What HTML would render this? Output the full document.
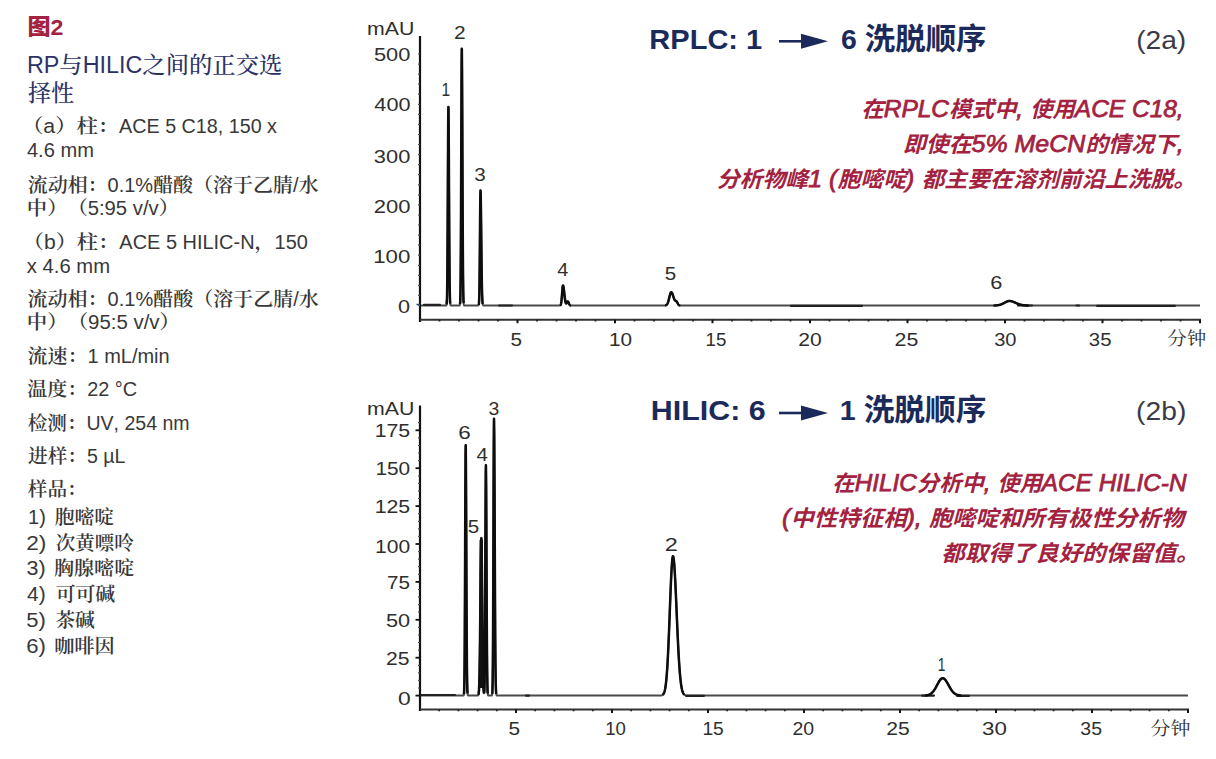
<!DOCTYPE html>
<html lang="zh"><head><meta charset="utf-8"><title>图2 RP与HILIC之间的正交选择性</title>
<style>
html,body{margin:0;padding:0;background:#fff;width:1216px;height:759px;overflow:hidden}
svg{display:block}
text{text-spacing-trim:space-all;font-kerning:none}
</style></head>
<body>
<svg width="1216" height="759" viewBox="0 0 1216 759">
<rect width="1216" height="759" fill="#fff"/>
<g fill="none" stroke-linejoin="round">
<line x1="420" y1="36.0" x2="420" y2="322.0" stroke="#111" stroke-width="2.2"/>
<line x1="420" y1="319.7" x2="1201.0" y2="319.7" stroke="#333" stroke-width="2"/>
<line x1="439.5" y1="319.7" x2="439.5" y2="321.5" stroke="#222" stroke-width="1.8"/>
<line x1="459.0" y1="319.7" x2="459.0" y2="321.5" stroke="#222" stroke-width="1.8"/>
<line x1="478.5" y1="319.7" x2="478.5" y2="321.5" stroke="#222" stroke-width="1.8"/>
<line x1="498.0" y1="319.7" x2="498.0" y2="321.5" stroke="#222" stroke-width="1.8"/>
<line x1="517.5" y1="319.7" x2="517.5" y2="323.2" stroke="#111" stroke-width="2"/>
<line x1="537.0" y1="319.7" x2="537.0" y2="321.5" stroke="#222" stroke-width="1.8"/>
<line x1="556.5" y1="319.7" x2="556.5" y2="321.5" stroke="#222" stroke-width="1.8"/>
<line x1="576.0" y1="319.7" x2="576.0" y2="321.5" stroke="#222" stroke-width="1.8"/>
<line x1="595.5" y1="319.7" x2="595.5" y2="321.5" stroke="#222" stroke-width="1.8"/>
<line x1="615.0" y1="319.7" x2="615.0" y2="323.2" stroke="#111" stroke-width="2"/>
<line x1="634.5" y1="319.7" x2="634.5" y2="321.5" stroke="#222" stroke-width="1.8"/>
<line x1="654.0" y1="319.7" x2="654.0" y2="321.5" stroke="#222" stroke-width="1.8"/>
<line x1="673.5" y1="319.7" x2="673.5" y2="321.5" stroke="#222" stroke-width="1.8"/>
<line x1="693.0" y1="319.7" x2="693.0" y2="321.5" stroke="#222" stroke-width="1.8"/>
<line x1="712.5" y1="319.7" x2="712.5" y2="323.2" stroke="#111" stroke-width="2"/>
<line x1="732.0" y1="319.7" x2="732.0" y2="321.5" stroke="#222" stroke-width="1.8"/>
<line x1="751.5" y1="319.7" x2="751.5" y2="321.5" stroke="#222" stroke-width="1.8"/>
<line x1="771.0" y1="319.7" x2="771.0" y2="321.5" stroke="#222" stroke-width="1.8"/>
<line x1="790.5" y1="319.7" x2="790.5" y2="321.5" stroke="#222" stroke-width="1.8"/>
<line x1="810.0" y1="319.7" x2="810.0" y2="323.2" stroke="#111" stroke-width="2"/>
<line x1="829.5" y1="319.7" x2="829.5" y2="321.5" stroke="#222" stroke-width="1.8"/>
<line x1="849.0" y1="319.7" x2="849.0" y2="321.5" stroke="#222" stroke-width="1.8"/>
<line x1="868.5" y1="319.7" x2="868.5" y2="321.5" stroke="#222" stroke-width="1.8"/>
<line x1="888.0" y1="319.7" x2="888.0" y2="321.5" stroke="#222" stroke-width="1.8"/>
<line x1="907.5" y1="319.7" x2="907.5" y2="323.2" stroke="#111" stroke-width="2"/>
<line x1="927.0" y1="319.7" x2="927.0" y2="321.5" stroke="#222" stroke-width="1.8"/>
<line x1="946.5" y1="319.7" x2="946.5" y2="321.5" stroke="#222" stroke-width="1.8"/>
<line x1="966.0" y1="319.7" x2="966.0" y2="321.5" stroke="#222" stroke-width="1.8"/>
<line x1="985.5" y1="319.7" x2="985.5" y2="321.5" stroke="#222" stroke-width="1.8"/>
<line x1="1005.0" y1="319.7" x2="1005.0" y2="323.2" stroke="#111" stroke-width="2"/>
<line x1="1024.5" y1="319.7" x2="1024.5" y2="321.5" stroke="#222" stroke-width="1.8"/>
<line x1="1044.0" y1="319.7" x2="1044.0" y2="321.5" stroke="#222" stroke-width="1.8"/>
<line x1="1063.5" y1="319.7" x2="1063.5" y2="321.5" stroke="#222" stroke-width="1.8"/>
<line x1="1083.0" y1="319.7" x2="1083.0" y2="321.5" stroke="#222" stroke-width="1.8"/>
<line x1="1102.5" y1="319.7" x2="1102.5" y2="323.2" stroke="#111" stroke-width="2"/>
<line x1="1122.0" y1="319.7" x2="1122.0" y2="321.5" stroke="#222" stroke-width="1.8"/>
<line x1="1141.5" y1="319.7" x2="1141.5" y2="321.5" stroke="#222" stroke-width="1.8"/>
<line x1="1161.0" y1="319.7" x2="1161.0" y2="321.5" stroke="#222" stroke-width="1.8"/>
<line x1="1180.5" y1="319.7" x2="1180.5" y2="321.5" stroke="#222" stroke-width="1.8"/>
<line x1="1200.0" y1="319.7" x2="1200.0" y2="323.2" stroke="#111" stroke-width="2"/>
<line x1="420" y1="405.6" x2="420" y2="711.0" stroke="#111" stroke-width="2.2"/>
<line x1="420" y1="709.5" x2="1189.0" y2="709.5" stroke="#333" stroke-width="2"/>
<line x1="439.2" y1="709.5" x2="439.2" y2="711.3" stroke="#222" stroke-width="1.8"/>
<line x1="458.4" y1="709.5" x2="458.4" y2="711.3" stroke="#222" stroke-width="1.8"/>
<line x1="477.6" y1="709.5" x2="477.6" y2="711.3" stroke="#222" stroke-width="1.8"/>
<line x1="496.8" y1="709.5" x2="496.8" y2="711.3" stroke="#222" stroke-width="1.8"/>
<line x1="516.0" y1="709.5" x2="516.0" y2="713.0" stroke="#111" stroke-width="2"/>
<line x1="535.2" y1="709.5" x2="535.2" y2="711.3" stroke="#222" stroke-width="1.8"/>
<line x1="554.4" y1="709.5" x2="554.4" y2="711.3" stroke="#222" stroke-width="1.8"/>
<line x1="573.6" y1="709.5" x2="573.6" y2="711.3" stroke="#222" stroke-width="1.8"/>
<line x1="592.8" y1="709.5" x2="592.8" y2="711.3" stroke="#222" stroke-width="1.8"/>
<line x1="612.0" y1="709.5" x2="612.0" y2="713.0" stroke="#111" stroke-width="2"/>
<line x1="631.2" y1="709.5" x2="631.2" y2="711.3" stroke="#222" stroke-width="1.8"/>
<line x1="650.4" y1="709.5" x2="650.4" y2="711.3" stroke="#222" stroke-width="1.8"/>
<line x1="669.6" y1="709.5" x2="669.6" y2="711.3" stroke="#222" stroke-width="1.8"/>
<line x1="688.8" y1="709.5" x2="688.8" y2="711.3" stroke="#222" stroke-width="1.8"/>
<line x1="708.0" y1="709.5" x2="708.0" y2="713.0" stroke="#111" stroke-width="2"/>
<line x1="727.2" y1="709.5" x2="727.2" y2="711.3" stroke="#222" stroke-width="1.8"/>
<line x1="746.4" y1="709.5" x2="746.4" y2="711.3" stroke="#222" stroke-width="1.8"/>
<line x1="765.6" y1="709.5" x2="765.6" y2="711.3" stroke="#222" stroke-width="1.8"/>
<line x1="784.8" y1="709.5" x2="784.8" y2="711.3" stroke="#222" stroke-width="1.8"/>
<line x1="804.0" y1="709.5" x2="804.0" y2="713.0" stroke="#111" stroke-width="2"/>
<line x1="823.2" y1="709.5" x2="823.2" y2="711.3" stroke="#222" stroke-width="1.8"/>
<line x1="842.4" y1="709.5" x2="842.4" y2="711.3" stroke="#222" stroke-width="1.8"/>
<line x1="861.6" y1="709.5" x2="861.6" y2="711.3" stroke="#222" stroke-width="1.8"/>
<line x1="880.8" y1="709.5" x2="880.8" y2="711.3" stroke="#222" stroke-width="1.8"/>
<line x1="900.0" y1="709.5" x2="900.0" y2="713.0" stroke="#111" stroke-width="2"/>
<line x1="919.2" y1="709.5" x2="919.2" y2="711.3" stroke="#222" stroke-width="1.8"/>
<line x1="938.4" y1="709.5" x2="938.4" y2="711.3" stroke="#222" stroke-width="1.8"/>
<line x1="957.6" y1="709.5" x2="957.6" y2="711.3" stroke="#222" stroke-width="1.8"/>
<line x1="976.8" y1="709.5" x2="976.8" y2="711.3" stroke="#222" stroke-width="1.8"/>
<line x1="996.0" y1="709.5" x2="996.0" y2="713.0" stroke="#111" stroke-width="2"/>
<line x1="1015.2" y1="709.5" x2="1015.2" y2="711.3" stroke="#222" stroke-width="1.8"/>
<line x1="1034.4" y1="709.5" x2="1034.4" y2="711.3" stroke="#222" stroke-width="1.8"/>
<line x1="1053.6" y1="709.5" x2="1053.6" y2="711.3" stroke="#222" stroke-width="1.8"/>
<line x1="1072.8" y1="709.5" x2="1072.8" y2="711.3" stroke="#222" stroke-width="1.8"/>
<line x1="1092.0" y1="709.5" x2="1092.0" y2="713.0" stroke="#111" stroke-width="2"/>
<line x1="1111.2" y1="709.5" x2="1111.2" y2="711.3" stroke="#222" stroke-width="1.8"/>
<line x1="1130.4" y1="709.5" x2="1130.4" y2="711.3" stroke="#222" stroke-width="1.8"/>
<line x1="1149.6" y1="709.5" x2="1149.6" y2="711.3" stroke="#222" stroke-width="1.8"/>
<line x1="1168.8" y1="709.5" x2="1168.8" y2="711.3" stroke="#222" stroke-width="1.8"/>
<line x1="1188.0" y1="709.5" x2="1188.0" y2="713.0" stroke="#111" stroke-width="2"/>
<line x1="418" y1="305.5" x2="420" y2="305.5" stroke="#555" stroke-width="1.2"/>
<line x1="418" y1="295.4" x2="420" y2="295.4" stroke="#555" stroke-width="1.2"/>
<line x1="418" y1="285.4" x2="420" y2="285.4" stroke="#555" stroke-width="1.2"/>
<line x1="418" y1="275.3" x2="420" y2="275.3" stroke="#555" stroke-width="1.2"/>
<line x1="418" y1="265.3" x2="420" y2="265.3" stroke="#555" stroke-width="1.2"/>
<line x1="418" y1="255.2" x2="420" y2="255.2" stroke="#555" stroke-width="1.2"/>
<line x1="418" y1="245.1" x2="420" y2="245.1" stroke="#555" stroke-width="1.2"/>
<line x1="418" y1="235.1" x2="420" y2="235.1" stroke="#555" stroke-width="1.2"/>
<line x1="418" y1="225.0" x2="420" y2="225.0" stroke="#555" stroke-width="1.2"/>
<line x1="418" y1="215.0" x2="420" y2="215.0" stroke="#555" stroke-width="1.2"/>
<line x1="418" y1="204.9" x2="420" y2="204.9" stroke="#555" stroke-width="1.2"/>
<line x1="418" y1="194.8" x2="420" y2="194.8" stroke="#555" stroke-width="1.2"/>
<line x1="418" y1="184.8" x2="420" y2="184.8" stroke="#555" stroke-width="1.2"/>
<line x1="418" y1="174.7" x2="420" y2="174.7" stroke="#555" stroke-width="1.2"/>
<line x1="418" y1="164.7" x2="420" y2="164.7" stroke="#555" stroke-width="1.2"/>
<line x1="418" y1="154.6" x2="420" y2="154.6" stroke="#555" stroke-width="1.2"/>
<line x1="418" y1="144.5" x2="420" y2="144.5" stroke="#555" stroke-width="1.2"/>
<line x1="418" y1="134.5" x2="420" y2="134.5" stroke="#555" stroke-width="1.2"/>
<line x1="418" y1="124.4" x2="420" y2="124.4" stroke="#555" stroke-width="1.2"/>
<line x1="418" y1="114.4" x2="420" y2="114.4" stroke="#555" stroke-width="1.2"/>
<line x1="418" y1="104.3" x2="420" y2="104.3" stroke="#555" stroke-width="1.2"/>
<line x1="418" y1="94.2" x2="420" y2="94.2" stroke="#555" stroke-width="1.2"/>
<line x1="418" y1="84.2" x2="420" y2="84.2" stroke="#555" stroke-width="1.2"/>
<line x1="418" y1="74.1" x2="420" y2="74.1" stroke="#555" stroke-width="1.2"/>
<line x1="418" y1="64.1" x2="420" y2="64.1" stroke="#555" stroke-width="1.2"/>
<line x1="418" y1="54.0" x2="420" y2="54.0" stroke="#555" stroke-width="1.2"/>
<line x1="415.5" y1="695.6" x2="420" y2="695.6" stroke="#111" stroke-width="1.8"/>
<line x1="418" y1="688.0" x2="420" y2="688.0" stroke="#555" stroke-width="1.2"/>
<line x1="418" y1="680.4" x2="420" y2="680.4" stroke="#555" stroke-width="1.2"/>
<line x1="418" y1="672.9" x2="420" y2="672.9" stroke="#555" stroke-width="1.2"/>
<line x1="418" y1="665.3" x2="420" y2="665.3" stroke="#555" stroke-width="1.2"/>
<line x1="415.5" y1="657.7" x2="420" y2="657.7" stroke="#111" stroke-width="1.8"/>
<line x1="418" y1="650.1" x2="420" y2="650.1" stroke="#555" stroke-width="1.2"/>
<line x1="418" y1="642.5" x2="420" y2="642.5" stroke="#555" stroke-width="1.2"/>
<line x1="418" y1="635.0" x2="420" y2="635.0" stroke="#555" stroke-width="1.2"/>
<line x1="418" y1="627.4" x2="420" y2="627.4" stroke="#555" stroke-width="1.2"/>
<line x1="415.5" y1="619.8" x2="420" y2="619.8" stroke="#111" stroke-width="1.8"/>
<line x1="418" y1="612.2" x2="420" y2="612.2" stroke="#555" stroke-width="1.2"/>
<line x1="418" y1="604.6" x2="420" y2="604.6" stroke="#555" stroke-width="1.2"/>
<line x1="418" y1="597.1" x2="420" y2="597.1" stroke="#555" stroke-width="1.2"/>
<line x1="418" y1="589.5" x2="420" y2="589.5" stroke="#555" stroke-width="1.2"/>
<line x1="415.5" y1="581.9" x2="420" y2="581.9" stroke="#111" stroke-width="1.8"/>
<line x1="418" y1="574.3" x2="420" y2="574.3" stroke="#555" stroke-width="1.2"/>
<line x1="418" y1="566.7" x2="420" y2="566.7" stroke="#555" stroke-width="1.2"/>
<line x1="418" y1="559.2" x2="420" y2="559.2" stroke="#555" stroke-width="1.2"/>
<line x1="418" y1="551.6" x2="420" y2="551.6" stroke="#555" stroke-width="1.2"/>
<line x1="415.5" y1="544.0" x2="420" y2="544.0" stroke="#111" stroke-width="1.8"/>
<line x1="418" y1="536.4" x2="420" y2="536.4" stroke="#555" stroke-width="1.2"/>
<line x1="418" y1="528.8" x2="420" y2="528.8" stroke="#555" stroke-width="1.2"/>
<line x1="418" y1="521.3" x2="420" y2="521.3" stroke="#555" stroke-width="1.2"/>
<line x1="418" y1="513.7" x2="420" y2="513.7" stroke="#555" stroke-width="1.2"/>
<line x1="415.5" y1="506.1" x2="420" y2="506.1" stroke="#111" stroke-width="1.8"/>
<line x1="418" y1="498.5" x2="420" y2="498.5" stroke="#555" stroke-width="1.2"/>
<line x1="418" y1="490.9" x2="420" y2="490.9" stroke="#555" stroke-width="1.2"/>
<line x1="418" y1="483.4" x2="420" y2="483.4" stroke="#555" stroke-width="1.2"/>
<line x1="418" y1="475.8" x2="420" y2="475.8" stroke="#555" stroke-width="1.2"/>
<line x1="415.5" y1="468.2" x2="420" y2="468.2" stroke="#111" stroke-width="1.8"/>
<line x1="418" y1="460.6" x2="420" y2="460.6" stroke="#555" stroke-width="1.2"/>
<line x1="418" y1="453.0" x2="420" y2="453.0" stroke="#555" stroke-width="1.2"/>
<line x1="418" y1="445.5" x2="420" y2="445.5" stroke="#555" stroke-width="1.2"/>
<line x1="418" y1="437.9" x2="420" y2="437.9" stroke="#555" stroke-width="1.2"/>
<line x1="415.5" y1="430.3" x2="420" y2="430.3" stroke="#111" stroke-width="1.8"/>
<line x1="418" y1="422.7" x2="420" y2="422.7" stroke="#555" stroke-width="1.2"/>
<line x1="416.5" y1="304.5" x2="420" y2="304.5" stroke="#2a4a7a" stroke-width="1.5"/>
<path d="M421.00 305.50 L445.75 305.50 L446.00 305.49 L446.25 305.40 L446.50 304.99 L446.75 303.29 L447.00 297.72 L447.25 283.19 L447.50 253.46 L447.75 206.76 L448.00 153.13 L448.25 114.25 L448.40 107.00 L448.50 109.74 L448.75 138.06 L449.00 185.10 L449.25 232.73 L449.50 268.53 L449.75 289.71 L450.00 299.83 L450.25 303.79 L450.50 305.07 L450.75 305.41 L451.00 305.48 L451.25 305.50 L459.25 305.49 L459.50 305.46 L459.75 305.25 L460.00 304.29 L460.25 300.66 L460.50 289.79 L460.75 264.00 L461.00 216.37 L461.25 149.80 L461.50 84.28 L461.75 49.86 L461.80 48.80 L462.00 62.67 L462.25 111.73 L462.50 175.52 L462.75 232.21 L463.00 270.76 L463.25 291.66 L463.50 300.86 L463.75 304.19 L464.00 305.19 L464.25 305.44 L464.50 305.49 L465.00 305.50 L478.00 305.50 L478.25 305.47 L478.50 305.35 L478.75 304.77 L479.00 302.71 L479.25 296.81 L479.50 283.48 L479.75 260.12 L480.00 229.43 L480.25 201.79 L480.50 190.50 L480.75 196.71 L481.00 213.42 L481.25 235.75 L481.50 258.22 L481.75 276.82 L482.00 289.94 L482.25 297.94 L482.50 302.21 L482.75 304.22 L483.00 305.06 L483.25 305.36 L483.50 305.46 L483.75 305.49 L559.50 305.49 L559.75 305.47 L560.00 305.42 L560.25 305.31 L560.50 305.08 L560.75 304.62 L561.00 303.81 L561.25 302.48 L561.50 300.51 L561.75 297.88 L562.00 294.71 L562.25 291.37 L562.50 288.36 L562.75 286.26 L563.00 285.50 L563.25 285.87 L563.50 286.93 L563.75 288.57 L564.00 290.62 L564.25 292.90 L564.50 295.20 L564.75 297.38 L565.00 299.30 L565.25 300.87 L565.50 302.07 L565.75 302.88 L566.00 303.31 L566.25 303.42 L566.50 303.25 L566.75 302.88 L567.00 302.42 L567.25 301.97 L567.50 301.63 L567.75 301.48 L567.80 301.48 L568.00 301.57 L568.25 301.88 L568.50 302.37 L568.75 302.95 L569.00 303.55 L569.25 304.10 L569.50 304.56 L569.75 304.90 L570.00 305.14 L570.25 305.30 L570.50 305.40 L570.75 305.45 L571.00 305.48 L571.25 305.49 L572.25 305.50 L664.25 305.48 L664.50 305.47 L664.75 305.46 L665.00 305.44 L665.25 305.40 L665.50 305.35 L665.75 305.28 L666.00 305.19 L666.25 305.06 L666.50 304.88 L666.75 304.65 L667.00 304.35 L667.25 303.98 L667.50 303.52 L667.75 302.96 L668.00 302.30 L668.25 301.55 L668.50 300.69 L668.75 299.75 L669.00 298.75 L669.25 297.70 L669.50 296.65 L669.75 295.63 L670.00 294.69 L670.25 293.85 L670.50 293.17 L670.75 292.67 L671.00 292.37 L671.20 292.30 L671.25 292.30 L671.50 292.40 L671.75 292.64 L672.00 293.01 L672.25 293.50 L672.50 294.09 L672.75 294.76 L673.00 295.49 L673.25 296.26 L673.50 297.03 L673.75 297.78 L674.00 298.47 L674.25 299.10 L674.50 299.62 L674.75 300.04 L675.00 300.36 L675.25 300.58 L675.50 300.73 L675.75 300.84 L676.00 300.96 L676.25 301.12 L676.50 301.35 L676.75 301.65 L677.00 302.04 L677.25 302.48 L677.50 302.96 L677.75 303.44 L678.00 303.89 L678.25 304.29 L678.50 304.62 L678.75 304.89 L679.00 305.09 L679.25 305.24 L679.50 305.33 L679.75 305.40 L680.00 305.44 L680.25 305.47 L680.50 305.48 L681.00 305.49 L992.75 305.48 L993.50 305.47 L994.25 305.46 L994.75 305.44 L995.00 305.43 L995.25 305.42 L995.50 305.41 L995.75 305.40 L996.00 305.38 L996.25 305.37 L996.50 305.35 L996.75 305.33 L997.00 305.30 L997.25 305.28 L997.50 305.25 L997.75 305.22 L998.00 305.18 L998.25 305.14 L998.50 305.10 L998.75 305.05 L999.00 305.00 L999.25 304.95 L999.50 304.89 L999.75 304.83 L1000.00 304.76 L1000.25 304.69 L1000.50 304.61 L1000.75 304.53 L1001.00 304.44 L1001.25 304.35 L1001.50 304.25 L1001.75 304.15 L1002.00 304.04 L1002.25 303.93 L1002.50 303.81 L1002.75 303.69 L1003.00 303.57 L1003.25 303.44 L1003.50 303.31 L1003.75 303.18 L1004.00 303.04 L1004.25 302.91 L1004.50 302.77 L1004.75 302.63 L1005.00 302.50 L1005.25 302.36 L1005.50 302.23 L1005.75 302.10 L1006.00 301.98 L1006.25 301.86 L1006.50 301.74 L1006.75 301.63 L1007.00 301.53 L1007.25 301.43 L1007.50 301.35 L1007.75 301.27 L1008.00 301.20 L1008.25 301.14 L1008.50 301.09 L1008.75 301.05 L1009.00 301.02 L1009.25 301.01 L1009.75 301.00 L1010.00 301.02 L1010.25 301.04 L1010.50 301.06 L1010.75 301.10 L1011.00 301.14 L1011.25 301.19 L1011.50 301.24 L1011.75 301.31 L1012.00 301.37 L1012.25 301.45 L1012.50 301.53 L1012.75 301.61 L1013.00 301.70 L1013.25 301.80 L1013.50 301.90 L1013.75 302.00 L1014.00 302.10 L1014.25 302.21 L1014.50 302.32 L1014.75 302.43 L1015.00 302.54 L1015.25 302.66 L1015.50 302.77 L1015.75 302.88 L1016.00 303.00 L1016.25 303.11 L1016.50 303.22 L1016.75 303.33 L1017.00 303.44 L1017.25 303.55 L1017.50 303.65 L1017.75 303.75 L1018.00 303.85 L1018.25 303.95 L1018.50 304.04 L1018.75 304.13 L1019.00 304.22 L1019.25 304.30 L1019.50 304.38 L1019.75 304.45 L1020.00 304.53 L1020.25 304.60 L1020.50 304.66 L1020.75 304.72 L1021.00 304.78 L1021.25 304.84 L1021.50 304.89 L1021.75 304.94 L1022.00 304.99 L1022.25 305.03 L1022.50 305.07 L1022.75 305.11 L1023.00 305.14 L1023.25 305.17 L1023.50 305.20 L1023.75 305.23 L1024.00 305.26 L1024.25 305.28 L1024.50 305.30 L1024.75 305.32 L1025.00 305.34 L1025.25 305.36 L1025.50 305.37 L1025.75 305.39 L1026.00 305.40 L1026.25 305.41 L1026.50 305.42 L1027.00 305.44 L1027.50 305.45 L1028.00 305.46 L1028.75 305.47 L1029.75 305.48 L1031.75 305.50 L1200.00 305.50" stroke="#4a4a4a" stroke-width="2.0"/>
<path d="M421.00 695.60 L463.00 695.60 L463.25 695.59 L463.50 695.52 L463.75 695.13 L464.00 693.49 L464.25 687.85 L464.50 672.43 L464.75 639.26 L465.00 584.20 L465.25 516.43 L465.50 461.22 L465.70 445.20 L465.75 446.07 L466.00 474.62 L466.25 531.10 L466.50 592.66 L466.75 641.45 L467.00 671.65 L467.25 686.70 L467.50 692.82 L467.75 694.87 L468.00 695.44 L468.25 695.57 L468.50 695.60 L477.25 695.59 L477.50 695.58 L477.75 695.53 L478.00 695.41 L478.25 695.10 L478.50 694.35 L478.75 692.76 L479.00 689.59 L479.25 683.84 L479.50 674.30 L479.75 659.88 L480.00 640.14 L480.25 615.90 L480.50 589.57 L480.75 565.01 L481.00 546.71 L481.25 538.44 L481.30 538.20 L481.50 542.04 L481.75 556.69 L482.00 579.28 L482.25 605.43 L482.50 630.89 L482.75 652.61 L483.00 669.16 L483.25 680.55 L483.50 687.65 L483.75 691.62 L484.00 693.26 L484.25 692.31 L484.50 686.29 L484.75 669.62 L485.00 635.19 L485.25 581.04 L485.50 518.81 L485.75 473.71 L485.90 465.30 L486.00 468.48 L486.25 501.33 L486.50 555.92 L486.75 611.17 L487.00 652.70 L487.25 677.28 L487.50 689.02 L487.75 693.61 L488.00 695.10 L488.25 695.49 L488.50 695.58 L488.75 695.60 L491.50 695.59 L491.75 695.54 L492.00 695.23 L492.25 693.85 L492.50 688.89 L492.75 674.68 L493.00 642.59 L493.25 586.36 L493.50 512.49 L493.75 445.97 L494.00 418.80 L494.25 435.90 L494.50 481.12 L494.75 539.68 L495.00 595.83 L495.25 639.40 L495.50 667.73 L495.75 683.44 L496.00 690.93 L496.25 694.02 L496.50 695.13 L496.75 695.48 L497.00 695.57 L497.25 695.59 L659.50 695.58 L660.00 695.56 L660.25 695.55 L660.50 695.53 L660.75 695.51 L661.00 695.48 L661.25 695.44 L661.50 695.38 L661.75 695.31 L662.00 695.22 L662.25 695.11 L662.50 694.96 L662.75 694.78 L663.00 694.54 L663.25 694.26 L663.50 693.90 L663.75 693.46 L664.00 692.93 L664.25 692.29 L664.50 691.51 L664.75 690.58 L665.00 689.48 L665.25 688.18 L665.50 686.66 L665.75 684.90 L666.00 682.87 L666.25 680.54 L666.50 677.90 L666.75 674.92 L667.00 671.58 L667.25 667.88 L667.50 663.80 L667.75 659.34 L668.00 654.50 L668.25 649.31 L668.50 643.78 L668.75 637.93 L669.00 631.82 L669.25 625.50 L669.50 619.01 L669.75 612.43 L670.00 605.84 L670.25 599.31 L670.50 592.94 L670.75 586.81 L671.00 581.01 L671.25 575.65 L671.50 570.79 L671.75 566.53 L672.00 562.94 L672.25 560.07 L672.50 557.99 L672.75 556.72 L673.00 556.30 L673.25 556.64 L673.50 557.64 L673.75 559.29 L674.00 561.57 L674.25 564.45 L674.50 567.88 L674.75 571.82 L675.00 576.22 L675.25 581.01 L675.50 586.15 L675.75 591.55 L676.00 597.16 L676.25 602.92 L676.50 608.76 L676.75 614.63 L677.00 620.46 L677.25 626.21 L677.50 631.82 L677.75 637.27 L678.00 642.50 L678.25 647.50 L678.50 652.24 L678.75 656.70 L679.00 660.87 L679.25 664.74 L679.50 668.31 L679.75 671.58 L680.00 674.56 L680.25 677.27 L680.50 679.70 L680.75 681.87 L681.00 683.81 L681.25 685.52 L681.50 687.02 L681.75 688.34 L682.00 689.48 L682.25 690.47 L682.50 691.32 L682.75 692.04 L683.00 692.66 L683.25 693.18 L683.50 693.62 L683.75 693.99 L684.00 694.29 L684.25 694.54 L684.50 694.75 L684.75 694.92 L685.00 695.06 L685.25 695.17 L685.50 695.26 L685.75 695.34 L686.00 695.39 L686.25 695.44 L686.50 695.48 L686.75 695.51 L687.00 695.53 L687.25 695.54 L687.50 695.56 L687.75 695.57 L688.25 695.58 L689.00 695.59 L922.00 695.58 L922.75 695.57 L923.25 695.56 L923.75 695.54 L924.00 695.53 L924.25 695.52 L924.50 695.51 L924.75 695.50 L925.00 695.48 L925.25 695.46 L925.50 695.44 L925.75 695.42 L926.00 695.40 L926.25 695.37 L926.50 695.33 L926.75 695.30 L927.00 695.26 L927.25 695.21 L927.50 695.16 L927.75 695.11 L928.00 695.05 L928.25 694.98 L928.50 694.90 L928.75 694.82 L929.00 694.73 L929.25 694.63 L929.50 694.52 L929.75 694.40 L930.00 694.27 L930.25 694.13 L930.50 693.98 L930.75 693.81 L931.00 693.64 L931.25 693.45 L931.50 693.25 L931.75 693.03 L932.00 692.80 L932.25 692.55 L932.50 692.29 L932.75 692.01 L933.00 691.72 L933.25 691.41 L933.50 691.09 L933.75 690.75 L934.00 690.39 L934.25 690.03 L934.50 689.64 L934.75 689.25 L935.00 688.84 L935.25 688.42 L935.50 687.99 L935.75 687.54 L936.00 687.09 L936.25 686.64 L936.50 686.17 L936.75 685.71 L937.00 685.23 L937.25 684.76 L937.50 684.29 L937.75 683.83 L938.00 683.37 L938.25 682.91 L938.50 682.47 L938.75 682.03 L939.00 681.61 L939.25 681.21 L939.50 680.82 L939.75 680.45 L940.00 680.11 L940.25 679.79 L940.50 679.49 L940.75 679.22 L941.00 678.98 L941.25 678.77 L941.50 678.59 L941.75 678.45 L942.00 678.34 L942.25 678.26 L942.50 678.21 L942.70 678.20 L942.75 678.20 L943.00 678.22 L943.25 678.28 L943.50 678.36 L943.75 678.48 L944.00 678.63 L944.25 678.81 L944.50 679.02 L944.75 679.25 L945.00 679.52 L945.25 679.80 L945.50 680.11 L945.75 680.45 L946.00 680.80 L946.25 681.17 L946.50 681.56 L946.75 681.96 L947.00 682.38 L947.25 682.81 L947.50 683.25 L947.75 683.69 L948.00 684.14 L948.25 684.59 L948.50 685.05 L948.75 685.50 L949.00 685.95 L949.25 686.40 L949.50 686.85 L949.75 687.29 L950.00 687.72 L950.25 688.14 L950.50 688.56 L950.75 688.96 L951.00 689.35 L951.25 689.73 L951.50 690.10 L951.75 690.45 L952.00 690.79 L952.25 691.11 L952.50 691.43 L952.75 691.72 L953.00 692.00 L953.25 692.27 L953.50 692.53 L953.75 692.77 L954.00 692.99 L954.25 693.20 L954.50 693.40 L954.75 693.59 L955.00 693.76 L955.25 693.93 L955.50 694.08 L955.75 694.22 L956.00 694.34 L956.25 694.46 L956.50 694.57 L956.75 694.67 L957.00 694.77 L957.25 694.85 L957.50 694.93 L957.75 695.00 L958.00 695.06 L958.25 695.12 L958.50 695.17 L958.75 695.22 L959.00 695.26 L959.25 695.30 L959.50 695.34 L959.75 695.37 L960.00 695.40 L960.25 695.42 L960.50 695.44 L960.75 695.46 L961.00 695.48 L961.25 695.50 L961.50 695.51 L961.75 695.52 L962.00 695.53 L962.50 695.55 L963.00 695.56 L963.50 695.57 L964.25 695.58 L965.75 695.59 L1188.00 695.60" stroke="#4a4a4a" stroke-width="2.0"/>
<path d="M424.0 304.8 L440.0 304.8 M499.0 305.5 L512.0 305.5 M791.0 305.9 L862.0 305.9 M1097.0 305.8 L1175.0 305.8 M1076.5 305.5 L1079.0 305.5 M1018.0 305.5 L1032.0 305.5 M421.0 695.0 L455.0 695.0 M526.0 695.6 L529.0 695.6 M686.0 695.8 L704.0 695.8 M922.0 695.6 L934.0 695.6 M957.0 695.8 L969.0 695.8" stroke="#222" stroke-width="2.2" stroke-linecap="round"/>
<path d="M446.64 304.31 L446.84 301.95 L447.04 296.17 L447.24 284.03 L447.44 262.23 L447.64 229.09 L447.84 187.29 L448.04 145.28 L448.24 115.22 L448.40 107.00 L448.44 107.44 L448.64 122.26 L448.84 153.80 L449.04 193.12 L449.24 231.00 L449.44 261.31 L449.64 282.04 L449.84 294.36 L450.04 300.76 L450.24 303.70 M460.04 303.97 L460.24 300.90 L460.44 293.43 L460.64 277.74 L460.84 249.54 L461.04 206.69 L461.24 152.63 L461.44 98.30 L461.64 59.44 L461.80 48.80 L461.84 49.37 L462.04 68.54 L462.24 109.32 L462.44 160.17 L462.64 209.16 L462.84 248.35 L463.04 275.16 L463.24 291.09 L463.44 299.38 L463.64 303.17 M478.74 304.81 L478.94 303.44 L479.14 300.09 L479.34 293.06 L479.54 280.43 L479.74 261.23 L479.94 237.02 L480.14 212.67 L480.34 195.26 L480.50 190.50 L480.54 190.66 L480.74 196.24 L480.94 208.68 L481.14 225.59 L481.34 244.08 L481.54 261.53 L481.74 276.18 L481.94 287.29 L482.14 294.97 L482.34 299.83 L482.54 302.65 L482.74 304.17 M560.12 305.38 L560.32 305.26 L560.52 305.05 L560.72 304.69 L560.92 304.12 L561.12 303.24 L561.32 302.00 L561.52 300.33 L561.72 298.23 L561.92 295.76 L562.12 293.10 L562.32 290.47 L562.52 288.15 L562.72 286.44 L562.92 285.58 L563.00 285.50 L563.12 285.58 L563.32 286.10 L563.52 287.04 L563.72 288.34 L563.92 289.93 L564.12 291.70 L564.32 293.55 L564.52 295.39 L564.72 297.13 L564.92 298.72 L565.12 300.10 L565.32 301.25 L565.52 302.15 L565.72 302.80 L565.92 303.21 L566.12 303.40 L566.32 303.40 L566.52 303.23 L566.72 302.93 L566.92 302.57 L567.12 302.19 M564.60 296.10 L564.80 297.79 L565.00 299.30 L565.20 300.59 L565.40 301.64 L565.60 302.44 L565.80 302.99 L566.00 303.31 L566.20 303.42 L566.40 303.34 L566.60 303.12 L566.80 302.79 L567.00 302.42 L567.20 302.05 L567.40 301.74 L567.60 301.54 L567.80 301.48 L568.00 301.57 L568.20 301.80 L568.40 302.16 L568.60 302.59 L568.80 303.07 L569.00 303.55 L569.20 304.00 L569.40 304.39 L569.60 304.71 L569.80 304.96 L570.00 305.14 L570.20 305.28 L570.40 305.36 L570.60 305.42 L570.80 305.46 L571.00 305.48 M665.12 305.42 L665.32 305.39 L665.52 305.35 L665.72 305.29 L665.92 305.22 L666.12 305.13 L666.32 305.01 L666.52 304.86 L666.72 304.68 L666.92 304.46 L667.12 304.18 L667.32 303.86 L667.52 303.48 L667.72 303.03 L667.92 302.53 L668.12 301.95 L668.32 301.32 L668.52 300.62 L668.72 299.87 L668.92 299.07 L669.12 298.25 L669.32 297.41 L669.52 296.57 L669.72 295.75 L669.92 294.98 L670.12 294.27 L670.32 293.64 L670.52 293.12 L670.72 292.71 L670.92 292.44 L671.12 292.31 L671.20 292.30 L671.32 292.32 L671.52 292.42 L671.72 292.61 L671.92 292.88 L672.12 293.23 L672.32 293.65 L672.52 294.14 L672.72 294.68 L672.92 295.25 L673.12 295.86 L673.32 296.47 L673.52 297.09 L673.72 297.69 L673.92 298.26 L674.12 298.78 L674.32 299.25 L674.52 299.66 L674.72 300.00 L674.92 300.27 L675.12 300.47 L675.32 300.63 L675.52 300.74 L675.72 300.83 L675.92 300.92 L676.12 301.03 L676.32 301.18 L676.50 301.35 L676.52 301.37 L676.72 301.61 L676.92 301.91 L677.12 302.24 L677.32 302.61 L677.52 303.00 L677.72 303.38 L677.92 303.75 L678.12 304.09 L678.32 304.39 L678.52 304.65 L678.72 304.86 M672.66 294.51 L672.86 295.08 L673.06 295.67 L673.26 296.29 L673.46 296.91 L673.66 297.51 L673.86 298.09 L674.06 298.63 L674.26 299.12 L674.46 299.55 L674.66 299.90 L674.86 300.19 L675.06 300.42 L675.26 300.58 L675.46 300.71 L675.66 300.80 L675.86 300.89 L676.06 301.00 L676.26 301.13 L676.46 301.31 L676.50 301.35 L676.66 301.53 L676.86 301.81 L677.06 302.14 L677.26 302.50 L677.46 302.88 L677.66 303.27 L677.86 303.64 L678.06 303.99 L678.26 304.30 L678.46 304.57 L678.66 304.80 L678.86 304.99 L679.06 305.13 L679.26 305.24 L679.46 305.32 L679.66 305.38 L679.86 305.42 L680.06 305.45 L680.26 305.47 M993.50 305.47 L994.10 305.46 L994.50 305.45 L994.90 305.44 L995.30 305.42 L995.50 305.41 L995.70 305.40 L995.90 305.39 L996.10 305.38 L996.30 305.36 L996.50 305.35 L996.70 305.33 L996.90 305.31 L997.10 305.29 L997.30 305.27 L997.50 305.25 L997.70 305.22 L997.90 305.19 L998.10 305.17 L998.30 305.13 L998.50 305.10 L998.70 305.06 L998.90 305.02 L999.10 304.98 L999.30 304.94 L999.50 304.89 L999.70 304.84 L999.90 304.79 L1000.10 304.73 L1000.30 304.67 L1000.50 304.61 L1000.70 304.54 L1000.90 304.47 L1001.10 304.40 L1001.30 304.33 L1001.50 304.25 L1001.70 304.17 L1001.90 304.08 L1002.10 303.99 L1002.30 303.90 L1002.50 303.81 L1002.70 303.72 L1002.90 303.62 L1003.10 303.52 L1003.30 303.41 L1003.50 303.31 L1003.70 303.20 L1003.90 303.10 L1004.10 302.99 L1004.30 302.88 L1004.50 302.77 L1004.70 302.66 L1004.90 302.55 L1005.10 302.44 L1005.30 302.34 L1005.50 302.23 L1005.70 302.13 L1005.90 302.03 L1006.10 301.93 L1006.30 301.83 L1006.50 301.74 L1006.70 301.65 L1006.90 301.57 L1007.10 301.49 L1007.30 301.42 L1007.50 301.35 L1007.70 301.28 L1007.90 301.22 L1008.10 301.17 L1008.30 301.13 L1008.50 301.09 L1008.70 301.06 L1008.90 301.03 L1009.10 301.01 L1009.30 301.00 L1009.90 301.01 L1010.10 301.02 L1010.30 301.04 L1010.50 301.06 L1010.70 301.09 L1010.90 301.12 L1011.10 301.16 L1011.30 301.20 L1011.50 301.24 L1011.70 301.29 L1011.90 301.35 L1012.10 301.40 L1012.30 301.46 L1012.50 301.53 L1012.70 301.60 L1012.90 301.67 L1013.10 301.74 L1013.30 301.82 L1013.50 301.90 L1013.70 301.98 L1013.90 302.06 L1014.10 302.15 L1014.30 302.23 L1014.50 302.32 L1014.70 302.41 L1014.90 302.50 L1015.10 302.59 L1015.30 302.68 L1015.50 302.77 L1015.70 302.86 L1015.90 302.95 L1016.10 303.04 L1016.30 303.13 L1016.50 303.22 L1016.70 303.31 L1016.90 303.40 L1017.10 303.48 L1017.30 303.57 L1017.50 303.65 L1017.70 303.73 L1017.90 303.81 L1018.10 303.89 L1018.30 303.97 L1018.50 304.04 L1018.70 304.11 L1018.90 304.18 L1019.10 304.25 L1019.30 304.31 L1019.50 304.38 L1019.70 304.44 L1019.90 304.50 L1020.10 304.55 L1020.30 304.61 L1020.50 304.66 L1020.70 304.71 L1020.90 304.76 L1021.10 304.81 L1021.30 304.85 L1021.50 304.89 L1021.70 304.93 L1021.90 304.97 L1022.10 305.00 L1022.30 305.04 L1022.50 305.07 L1022.70 305.10 L1022.90 305.13 L1023.10 305.16 L1023.30 305.18 L1023.50 305.20 L1023.70 305.23 L1023.90 305.25 L1024.10 305.27 L1024.30 305.29 L1024.50 305.30 L1024.70 305.32 L1024.90 305.33 L1025.10 305.35 L1025.30 305.36 L1025.50 305.37 L1025.70 305.38 L1025.90 305.39 L1026.30 305.41 L1026.70 305.43 L1027.10 305.44 L1027.50 305.45 L1028.10 305.46 L1028.70 305.47" stroke="#0d0d0d" stroke-width="2.5"/>
<path d="M463.94 694.10 L464.14 691.12 L464.34 683.83 L464.54 668.52 L464.74 641.02 L464.94 599.22 L465.14 546.49 L465.34 493.48 L465.54 455.57 L465.70 445.20 L465.74 445.76 L465.94 464.45 L466.14 504.24 L466.34 553.84 L466.54 601.62 L466.74 639.85 L466.94 666.01 L467.14 681.54 L467.34 689.63 L467.54 693.33 M478.42 694.66 L478.62 693.73 L478.82 692.07 L479.02 689.24 L479.22 684.71 L479.42 677.84 L479.62 668.03 L479.82 654.88 L480.02 638.35 L480.22 618.99 L480.42 598.01 L480.62 577.28 L480.82 559.07 L481.02 545.64 L481.22 538.82 L481.30 538.20 L481.42 539.59 L481.62 547.84 L481.82 562.40 L482.02 581.30 L482.22 602.25 L482.42 623.04 L482.62 641.91 L482.82 657.79 L483.02 670.25 L483.22 679.43 L483.42 685.77 L483.62 689.88 L483.82 692.30 L484.02 693.30 M484.14 693.14 L484.34 690.95 L484.54 684.53 L484.74 670.58 L484.94 645.35 L485.14 606.93 L485.34 558.45 L485.54 509.71 L485.74 474.84 L485.90 465.30 L485.94 465.81 L486.14 483.01 L486.34 519.60 L486.54 565.21 L486.74 609.17 L486.94 644.33 L487.14 668.38 L487.34 682.67 L487.54 690.11 L487.74 693.51 M492.24 693.95 L492.44 690.64 L492.64 682.58 L492.84 665.66 L493.04 635.26 L493.24 589.05 L493.44 530.76 L493.64 472.17 L493.84 430.27 L494.00 418.80 L494.04 419.25 L494.24 434.60 L494.44 468.42 L494.64 513.36 L494.84 560.87 L495.04 603.80 L495.24 637.95 L495.44 662.24 L495.64 677.81 L495.84 686.85 L496.04 691.64 L496.24 693.95 M662.76 694.77 L662.96 694.59 L663.16 694.37 L663.36 694.11 L663.56 693.80 L663.76 693.44 L663.96 693.02 L664.16 692.53 L664.36 691.96 L664.56 691.30 L664.76 690.54 L664.96 689.67 L665.16 688.67 L665.36 687.54 L665.56 686.26 L665.76 684.83 L665.96 683.21 L666.16 681.42 L666.36 679.42 L666.56 677.21 L666.76 674.79 L666.96 672.14 L667.16 669.25 L667.36 666.13 L667.56 662.76 L667.76 659.15 L667.96 655.30 L668.16 651.22 L668.36 646.91 L668.56 642.40 L668.76 637.69 L668.96 632.82 L669.16 627.80 L669.36 622.66 L669.56 617.44 L669.76 612.17 L669.96 606.89 L670.16 601.65 L670.36 596.48 L670.56 591.44 L670.76 586.57 L670.96 581.92 L671.16 577.53 L671.36 573.44 L671.56 569.71 L671.76 566.38 L671.96 563.47 L672.16 561.02 L672.36 559.06 L672.56 557.61 L672.76 556.69 L672.96 556.31 L673.00 556.30 L673.16 556.44 L673.36 556.99 L673.56 557.98 L673.76 559.37 L673.96 561.17 L674.16 563.35 L674.36 565.89 L674.56 568.78 L674.76 571.99 L674.96 575.49 L675.16 579.25 L675.36 583.23 L675.56 587.42 L675.76 591.77 L675.96 596.25 L676.16 600.84 L676.36 605.49 L676.56 610.17 L676.76 614.86 L676.96 619.53 L677.16 624.15 L677.36 628.70 L677.56 633.15 L677.76 637.48 L677.96 641.68 L678.16 645.73 L678.36 649.62 L678.56 653.33 L678.76 656.87 L678.96 660.22 L679.16 663.38 L679.36 666.34 L679.56 669.12 L679.76 671.71 L679.96 674.11 L680.16 676.33 L680.36 678.37 L680.56 680.24 L680.76 681.95 L680.96 683.51 L681.16 684.93 L681.36 686.20 L681.56 687.35 L681.76 688.39 L681.96 689.31 L682.16 690.13 L682.36 690.86 L682.56 691.50 L682.76 692.07 L682.96 692.57 L683.16 693.00 L683.36 693.38 L683.56 693.71 L683.76 694.00 L683.96 694.25 L684.16 694.46 L684.36 694.64 M924.78 695.50 L924.98 695.48 L925.18 695.47 L925.38 695.45 L925.58 695.44 L925.78 695.42 L925.98 695.40 L926.18 695.38 L926.38 695.35 L926.58 695.32 L926.78 695.29 L926.98 695.26 L927.18 695.23 L927.38 695.19 L927.58 695.15 L927.78 695.10 L927.98 695.05 L928.18 695.00 L928.38 694.94 L928.58 694.88 L928.78 694.81 L928.98 694.73 L929.18 694.66 L929.38 694.57 L929.58 694.48 L929.78 694.38 L929.98 694.28 L930.18 694.17 L930.38 694.05 L930.58 693.93 L930.78 693.79 L930.98 693.65 L931.18 693.50 L931.38 693.34 L931.58 693.18 L931.78 693.00 L931.98 692.82 L932.18 692.62 L932.38 692.42 L932.58 692.20 L932.78 691.98 L932.98 691.74 L933.18 691.50 L933.38 691.24 L933.58 690.98 L933.78 690.71 L933.98 690.42 L934.18 690.13 L934.38 689.83 L934.58 689.52 L934.78 689.20 L934.98 688.87 L935.18 688.54 L935.38 688.19 L935.58 687.85 L935.78 687.49 L935.98 687.13 L936.18 686.77 L936.38 686.40 L936.58 686.02 L936.78 685.65 L936.98 685.27 L937.18 684.90 L937.38 684.52 L937.58 684.14 L937.78 683.77 L937.98 683.40 L938.18 683.04 L938.38 682.68 L938.58 682.33 L938.78 681.98 L938.98 681.65 L939.18 681.32 L939.38 681.00 L939.58 680.70 L939.78 680.41 L939.98 680.14 L940.18 679.88 L940.38 679.63 L940.58 679.40 L940.78 679.19 L940.98 679.00 L941.18 678.83 L941.38 678.68 L941.58 678.54 L941.78 678.43 L941.98 678.34 L942.18 678.27 L942.38 678.23 L942.58 678.20 L942.78 678.20 L942.98 678.22 L943.18 678.26 L943.38 678.32 L943.58 678.40 L943.78 678.50 L943.98 678.62 L944.18 678.76 L944.38 678.91 L944.58 679.09 L944.78 679.28 L944.98 679.49 L945.18 679.72 L945.38 679.96 L945.58 680.22 L945.78 680.49 L945.98 680.77 L946.18 681.07 L946.38 681.37 L946.58 681.69 L946.78 682.01 L946.98 682.35 L947.18 682.69 L947.38 683.03 L947.58 683.39 L947.78 683.74 L947.98 684.10 L948.18 684.46 L948.38 684.83 L948.58 685.19 L948.78 685.56 L948.98 685.92 L949.18 686.28 L949.38 686.64 L949.58 686.99 L949.78 687.34 L949.98 687.69 L950.18 688.02 L950.38 688.36 L950.58 688.69 L950.78 689.01 L950.98 689.32 L951.18 689.62 L951.38 689.92 L951.58 690.21 L951.78 690.49 L951.98 690.76 L952.18 691.02 L952.38 691.28 L952.58 691.52 L952.78 691.76 L952.98 691.98 L953.18 692.20 L953.38 692.41 L953.58 692.60 L953.78 692.79 L953.98 692.97 L954.18 693.15 L954.38 693.31 L954.58 693.46 L954.78 693.61 L954.98 693.75 L955.18 693.88 L955.38 694.01 L955.58 694.12 L955.78 694.23 L955.98 694.33 L956.18 694.43 L956.38 694.52 L956.58 694.61 L956.78 694.69 L956.98 694.76 L957.18 694.83 L957.38 694.89 L957.58 694.95 L957.78 695.01 L957.98 695.06 L958.18 695.11 L958.38 695.15 L958.58 695.19 L958.78 695.23 L958.98 695.26 L959.18 695.29 L959.38 695.32 L959.58 695.35 L959.78 695.37 L959.98 695.39 L960.18 695.41 L960.38 695.43 L960.58 695.45 L960.78 695.46 L960.98 695.48 L961.18 695.49" stroke="#0d0d0d" stroke-width="2.5"/>
<line x1="481.3" y1="540" x2="481.3" y2="688" stroke="#111" stroke-width="3.4"/>
</g>
<text id="ty0" x="398.07" y="313.15" font-size="19.2" fill="#2e2e2e" font-family='"Liberation Sans", "Noto Sans CJK SC", sans-serif' text-anchor="start" font-weight="normal" font-style="normal" textLength="12.05" lengthAdjust="spacingAndGlyphs">0</text>
<text id="ty100" x="373.19" y="262.80" font-size="19.2" fill="#2e2e2e" font-family='"Liberation Sans", "Noto Sans CJK SC", sans-serif' text-anchor="start" font-weight="normal" font-style="normal" textLength="37.12" lengthAdjust="spacingAndGlyphs">100</text>
<text id="ty200" x="373.84" y="212.70" font-size="19.2" fill="#2e2e2e" font-family='"Liberation Sans", "Noto Sans CJK SC", sans-serif' text-anchor="start" font-weight="normal" font-style="normal" textLength="36.78" lengthAdjust="spacingAndGlyphs">200</text>
<text id="ty300" x="373.85" y="162.85" font-size="19.2" fill="#2e2e2e" font-family='"Liberation Sans", "Noto Sans CJK SC", sans-serif' text-anchor="start" font-weight="normal" font-style="normal" textLength="36.43" lengthAdjust="spacingAndGlyphs">300</text>
<text id="ty400" x="374.39" y="110.65" font-size="19.2" fill="#2e2e2e" font-family='"Liberation Sans", "Noto Sans CJK SC", sans-serif' text-anchor="start" font-weight="normal" font-style="normal" textLength="36.13" lengthAdjust="spacingAndGlyphs">400</text>
<text id="ty500" x="373.93" y="60.70" font-size="19.2" fill="#2e2e2e" font-family='"Liberation Sans", "Noto Sans CJK SC", sans-serif' text-anchor="start" font-weight="normal" font-style="normal" textLength="36.32" lengthAdjust="spacingAndGlyphs">500</text>
<text id="tmau" x="367.10" y="35.00" font-size="18.0" fill="#2e2e2e" font-family='"Liberation Sans", "Noto Sans CJK SC", sans-serif' text-anchor="start" font-weight="normal" font-style="normal" textLength="47.26" lengthAdjust="spacingAndGlyphs">mAU</text>
<text id="by0" x="397.90" y="704.70" font-size="19.2" fill="#2e2e2e" font-family='"Liberation Sans", "Noto Sans CJK SC", sans-serif' text-anchor="start" font-weight="normal" font-style="normal" textLength="12.70" lengthAdjust="spacingAndGlyphs">0</text>
<text id="by25" x="386.02" y="665.00" font-size="19.2" fill="#2e2e2e" font-family='"Liberation Sans", "Noto Sans CJK SC", sans-serif' text-anchor="start" font-weight="normal" font-style="normal" textLength="23.49" lengthAdjust="spacingAndGlyphs">25</text>
<text id="by50" x="386.00" y="626.90" font-size="19.2" fill="#2e2e2e" font-family='"Liberation Sans", "Noto Sans CJK SC", sans-serif' text-anchor="start" font-weight="normal" font-style="normal" textLength="24.15" lengthAdjust="spacingAndGlyphs">50</text>
<text id="by75" x="387.06" y="588.70" font-size="19.2" fill="#2e2e2e" font-family='"Liberation Sans", "Noto Sans CJK SC", sans-serif' text-anchor="start" font-weight="normal" font-style="normal" textLength="22.92" lengthAdjust="spacingAndGlyphs">75</text>
<text id="by100" x="375.03" y="552.80" font-size="19.2" fill="#2e2e2e" font-family='"Liberation Sans", "Noto Sans CJK SC", sans-serif' text-anchor="start" font-weight="normal" font-style="normal" textLength="35.06" lengthAdjust="spacingAndGlyphs">100</text>
<text id="by125" x="374.65" y="512.80" font-size="19.2" fill="#2e2e2e" font-family='"Liberation Sans", "Noto Sans CJK SC", sans-serif' text-anchor="start" font-weight="normal" font-style="normal" textLength="35.52" lengthAdjust="spacingAndGlyphs">125</text>
<text id="by150" x="375.40" y="474.90" font-size="19.2" fill="#2e2e2e" font-family='"Liberation Sans", "Noto Sans CJK SC", sans-serif' text-anchor="start" font-weight="normal" font-style="normal" textLength="34.70" lengthAdjust="spacingAndGlyphs">150</text>
<text id="by175" x="374.65" y="436.90" font-size="19.2" fill="#2e2e2e" font-family='"Liberation Sans", "Noto Sans CJK SC", sans-serif' text-anchor="start" font-weight="normal" font-style="normal" textLength="35.52" lengthAdjust="spacingAndGlyphs">175</text>
<text id="bmau" x="367.10" y="415.00" font-size="18.0" fill="#2e2e2e" font-family='"Liberation Sans", "Noto Sans CJK SC", sans-serif' text-anchor="start" font-weight="normal" font-style="normal" textLength="47.26" lengthAdjust="spacingAndGlyphs">mAU</text>
<text id="tx5" x="510.40" y="345.60" font-size="19.2" fill="#2e2e2e" font-family='"Liberation Sans", "Noto Sans CJK SC", sans-serif' text-anchor="start" font-weight="normal" font-style="normal" textLength="11.52" lengthAdjust="spacingAndGlyphs">5</text>
<text id="bx5" x="508.44" y="735.20" font-size="19.2" fill="#2e2e2e" font-family='"Liberation Sans", "Noto Sans CJK SC", sans-serif' text-anchor="start" font-weight="normal" font-style="normal" textLength="11.56" lengthAdjust="spacingAndGlyphs">5</text>
<text id="tx10" x="609.02" y="345.60" font-size="19.2" fill="#2e2e2e" font-family='"Liberation Sans", "Noto Sans CJK SC", sans-serif' text-anchor="start" font-weight="normal" font-style="normal" textLength="23.09" lengthAdjust="spacingAndGlyphs">10</text>
<text id="bx10" x="605.22" y="735.20" font-size="19.2" fill="#2e2e2e" font-family='"Liberation Sans", "Noto Sans CJK SC", sans-serif' text-anchor="start" font-weight="normal" font-style="normal" textLength="20.64" lengthAdjust="spacingAndGlyphs">10</text>
<text id="tx15" x="705.52" y="345.60" font-size="19.2" fill="#2e2e2e" font-family='"Liberation Sans", "Noto Sans CJK SC", sans-serif' text-anchor="start" font-weight="normal" font-style="normal" textLength="20.79" lengthAdjust="spacingAndGlyphs">15</text>
<text id="bx15" x="702.44" y="735.20" font-size="19.2" fill="#2e2e2e" font-family='"Liberation Sans", "Noto Sans CJK SC", sans-serif' text-anchor="start" font-weight="normal" font-style="normal" textLength="21.27" lengthAdjust="spacingAndGlyphs">15</text>
<text id="tx20" x="798.37" y="345.60" font-size="19.2" fill="#2e2e2e" font-family='"Liberation Sans", "Noto Sans CJK SC", sans-serif' text-anchor="start" font-weight="normal" font-style="normal" textLength="23.42" lengthAdjust="spacingAndGlyphs">20</text>
<text id="bx20" x="792.46" y="735.20" font-size="19.2" fill="#2e2e2e" font-family='"Liberation Sans", "Noto Sans CJK SC", sans-serif' text-anchor="start" font-weight="normal" font-style="normal" textLength="21.64" lengthAdjust="spacingAndGlyphs">20</text>
<text id="tx25" x="894.60" y="345.60" font-size="19.2" fill="#2e2e2e" font-family='"Liberation Sans", "Noto Sans CJK SC", sans-serif' text-anchor="start" font-weight="normal" font-style="normal" textLength="23.76" lengthAdjust="spacingAndGlyphs">25</text>
<text id="bx25" x="886.36" y="735.20" font-size="19.2" fill="#2e2e2e" font-family='"Liberation Sans", "Noto Sans CJK SC", sans-serif' text-anchor="start" font-weight="normal" font-style="normal" textLength="23.45" lengthAdjust="spacingAndGlyphs">25</text>
<text id="tx30" x="994.21" y="345.60" font-size="19.2" fill="#2e2e2e" font-family='"Liberation Sans", "Noto Sans CJK SC", sans-serif' text-anchor="start" font-weight="normal" font-style="normal" textLength="22.32" lengthAdjust="spacingAndGlyphs">30</text>
<text id="bx30" x="981.96" y="735.20" font-size="19.2" fill="#2e2e2e" font-family='"Liberation Sans", "Noto Sans CJK SC", sans-serif' text-anchor="start" font-weight="normal" font-style="normal" textLength="24.85" lengthAdjust="spacingAndGlyphs">30</text>
<text id="tx35" x="1088.87" y="345.60" font-size="19.2" fill="#2e2e2e" font-family='"Liberation Sans", "Noto Sans CJK SC", sans-serif' text-anchor="start" font-weight="normal" font-style="normal" textLength="22.64" lengthAdjust="spacingAndGlyphs">35</text>
<text id="bx35" x="1080.39" y="735.20" font-size="19.2" fill="#2e2e2e" font-family='"Liberation Sans", "Noto Sans CJK SC", sans-serif' text-anchor="start" font-weight="normal" font-style="normal" textLength="21.64" lengthAdjust="spacingAndGlyphs">35</text>
<text id="tmin" x="1167.35" y="345.00" font-size="18.5" fill="#2e2e2e" font-family='"Liberation Sans", "Noto Serif CJK SC", serif' text-anchor="start" font-weight="normal" font-style="normal" textLength="39.03" lengthAdjust="spacingAndGlyphs">分钟</text>
<text id="bmin" x="1150.48" y="735.00" font-size="18.5" fill="#2e2e2e" font-family='"Liberation Sans", "Noto Serif CJK SC", serif' text-anchor="start" font-weight="normal" font-style="normal" textLength="40.08" lengthAdjust="spacingAndGlyphs">分钟</text>
<text id="tp1" x="441.44" y="95.60" font-size="17.5" fill="#2e2e2e" font-family='"Liberation Sans", "Noto Sans CJK SC", sans-serif' text-anchor="start" font-weight="normal" font-style="normal" textLength="8.60" lengthAdjust="spacingAndGlyphs">1</text>
<text id="tp2" x="454.10" y="38.75" font-size="17.5" fill="#2e2e2e" font-family='"Liberation Sans", "Noto Sans CJK SC", sans-serif' text-anchor="start" font-weight="normal" font-style="normal" textLength="11.62" lengthAdjust="spacingAndGlyphs">2</text>
<text id="tp3" x="474.26" y="180.60" font-size="17.5" fill="#2e2e2e" font-family='"Liberation Sans", "Noto Sans CJK SC", sans-serif' text-anchor="start" font-weight="normal" font-style="normal" textLength="11.46" lengthAdjust="spacingAndGlyphs">3</text>
<text id="tp4" x="557.15" y="276.00" font-size="17.5" fill="#2e2e2e" font-family='"Liberation Sans", "Noto Sans CJK SC", sans-serif' text-anchor="start" font-weight="normal" font-style="normal" textLength="11.07" lengthAdjust="spacingAndGlyphs">4</text>
<text id="tp5" x="664.86" y="280.20" font-size="17.5" fill="#2e2e2e" font-family='"Liberation Sans", "Noto Sans CJK SC", sans-serif' text-anchor="start" font-weight="normal" font-style="normal" textLength="11.44" lengthAdjust="spacingAndGlyphs">5</text>
<text id="tp6" x="990.15" y="288.50" font-size="17.5" fill="#2e2e2e" font-family='"Liberation Sans", "Noto Sans CJK SC", sans-serif' text-anchor="start" font-weight="normal" font-style="normal" textLength="12.08" lengthAdjust="spacingAndGlyphs">6</text>
<text id="bp6" x="458.20" y="439.40" font-size="17.5" fill="#2e2e2e" font-family='"Liberation Sans", "Noto Sans CJK SC", sans-serif' text-anchor="start" font-weight="normal" font-style="normal" textLength="12.49" lengthAdjust="spacingAndGlyphs">6</text>
<text id="bp4" x="476.64" y="460.60" font-size="17.5" fill="#2e2e2e" font-family='"Liberation Sans", "Noto Sans CJK SC", sans-serif' text-anchor="start" font-weight="normal" font-style="normal" textLength="11.39" lengthAdjust="spacingAndGlyphs">4</text>
<text id="bp3" x="488.47" y="415.00" font-size="17.5" fill="#2e2e2e" font-family='"Liberation Sans", "Noto Sans CJK SC", sans-serif' text-anchor="start" font-weight="normal" font-style="normal" textLength="10.80" lengthAdjust="spacingAndGlyphs">3</text>
<text id="bp5" x="467.83" y="532.50" font-size="17.5" fill="#2e2e2e" font-family='"Liberation Sans", "Noto Sans CJK SC", sans-serif' text-anchor="start" font-weight="normal" font-style="normal" textLength="11.43" lengthAdjust="spacingAndGlyphs">5</text>
<text id="bp2" x="664.73" y="550.75" font-size="17.5" fill="#2e2e2e" font-family='"Liberation Sans", "Noto Sans CJK SC", sans-serif' text-anchor="start" font-weight="normal" font-style="normal" textLength="13.04" lengthAdjust="spacingAndGlyphs">2</text>
<text id="bp1" x="937.81" y="670.70" font-size="17.5" fill="#2e2e2e" font-family='"Liberation Sans", "Noto Sans CJK SC", sans-serif' text-anchor="start" font-weight="normal" font-style="normal" textLength="7.70" lengthAdjust="spacingAndGlyphs">1</text>
<text id="t1a" x="649.39" y="48.50" font-size="28.0" fill="#1b2a5a" font-family='"Liberation Sans", "Noto Sans CJK SC", sans-serif' text-anchor="start" font-weight="bold" font-style="normal" textLength="112.85" lengthAdjust="spacingAndGlyphs">RPLC: 1</text>
<text id="t1b" x="841.13" y="48.50" font-size="28.0" fill="#1b2a5a" font-family='"Liberation Sans", "Noto Sans CJK SC", sans-serif' text-anchor="start" font-weight="bold" font-style="normal" textLength="145.34" lengthAdjust="spacingAndGlyphs">6 <tspan font-size="30">洗脱顺序</tspan></text>
<text id="t2a" x="650.87" y="420.00" font-size="28.0" fill="#1b2a5a" font-family='"Liberation Sans", "Noto Sans CJK SC", sans-serif' text-anchor="start" font-weight="bold" font-style="normal" textLength="114.89" lengthAdjust="spacingAndGlyphs">HILIC: 6</text>
<text id="t2b" x="839.77" y="420.00" font-size="28.0" fill="#1b2a5a" font-family='"Liberation Sans", "Noto Sans CJK SC", sans-serif' text-anchor="start" font-weight="bold" font-style="normal" textLength="146.61" lengthAdjust="spacingAndGlyphs">1 <tspan font-size="30">洗脱顺序</tspan></text>
<text id="t1c" x="1136.17" y="48.50" font-size="26.5" fill="#3a3a48" font-family='"Liberation Sans", "Noto Sans CJK SC", sans-serif' text-anchor="start" font-weight="normal" font-style="normal" textLength="50.08" lengthAdjust="spacingAndGlyphs">(2a)</text>
<text id="t2c" x="1136.13" y="420.00" font-size="26.5" fill="#3a3a48" font-family='"Liberation Sans", "Noto Sans CJK SC", sans-serif' text-anchor="start" font-weight="normal" font-style="normal" textLength="50.20" lengthAdjust="spacingAndGlyphs">(2b)</text>
<text id="r1" x="861.27" y="117.00" font-size="22.0" fill="#a3223f" font-family='"Liberation Sans", "Noto Sans CJK SC", sans-serif' text-anchor="start" font-weight="normal" font-style="italic" textLength="322.40" lengthAdjust="spacingAndGlyphs"><tspan font-weight="bold">在</tspan><tspan font-weight="normal" font-size="24" stroke="#a3223f" stroke-width="0.75">RPLC</tspan><tspan font-weight="bold">模式中</tspan><tspan font-weight="normal" font-size="24" stroke="#a3223f" stroke-width="0.75">, </tspan><tspan font-weight="bold">使用</tspan><tspan font-weight="normal" font-size="24" stroke="#a3223f" stroke-width="0.75">ACE C18,</tspan></text>
<text id="r2" x="902.96" y="152.00" font-size="22.0" fill="#a3223f" font-family='"Liberation Sans", "Noto Sans CJK SC", sans-serif' text-anchor="start" font-weight="normal" font-style="italic" textLength="280.70" lengthAdjust="spacingAndGlyphs"><tspan font-weight="bold">即使在</tspan><tspan font-weight="normal" font-size="24" stroke="#a3223f" stroke-width="0.75">5% MeCN</tspan><tspan font-weight="bold">的情况下</tspan><tspan font-weight="normal" font-size="24" stroke="#a3223f" stroke-width="0.75">,</tspan></text>
<text id="r3" x="716.65" y="187.00" font-size="22.0" fill="#a3223f" font-family='"Liberation Sans", "Noto Sans CJK SC", sans-serif' text-anchor="start" font-weight="normal" font-style="italic" textLength="479.54" lengthAdjust="spacingAndGlyphs"><tspan font-weight="bold">分析物峰</tspan><tspan font-weight="normal" font-size="24" stroke="#a3223f" stroke-width="0.75">1 (</tspan><tspan font-weight="bold">胞嘧啶</tspan><tspan font-weight="normal" font-size="24" stroke="#a3223f" stroke-width="0.75">) </tspan><tspan font-weight="bold">都主要在溶剂前沿上洗脱。</tspan></text>
<text id="r4" x="832.36" y="491.00" font-size="22.0" fill="#a3223f" font-family='"Liberation Sans", "Noto Sans CJK SC", sans-serif' text-anchor="start" font-weight="normal" font-style="italic" textLength="354.12" lengthAdjust="spacingAndGlyphs"><tspan font-weight="bold">在</tspan><tspan font-weight="normal" font-size="24" stroke="#a3223f" stroke-width="0.75">HILIC</tspan><tspan font-weight="bold">分析中</tspan><tspan font-weight="normal" font-size="24" stroke="#a3223f" stroke-width="0.75">, </tspan><tspan font-weight="bold">使用</tspan><tspan font-weight="normal" font-size="24" stroke="#a3223f" stroke-width="0.75">ACE HILIC-N</tspan></text>
<text id="r5" x="782.10" y="526.00" font-size="22.0" fill="#a3223f" font-family='"Liberation Sans", "Noto Sans CJK SC", sans-serif' text-anchor="start" font-weight="normal" font-style="italic" textLength="401.76" lengthAdjust="spacingAndGlyphs"><tspan font-weight="normal" font-size="24" stroke="#a3223f" stroke-width="0.75">(</tspan><tspan font-weight="bold">中性特征相</tspan><tspan font-weight="normal" font-size="24" stroke="#a3223f" stroke-width="0.75">), </tspan><tspan font-weight="bold">胞嘧啶和所有极性分析物</tspan></text>
<text id="r6" x="941.31" y="561.00" font-size="22.0" fill="#a3223f" font-family='"Liberation Sans", "Noto Sans CJK SC", sans-serif' text-anchor="start" font-weight="normal" font-style="italic" textLength="258.18" lengthAdjust="spacingAndGlyphs"><tspan font-weight="bold">都取得了良好的保留值。</tspan></text>
<text id="fig" x="27.55" y="35.00" font-size="22.0" fill="#a3223f" font-family='"Liberation Sans", "Noto Sans CJK SC", sans-serif' text-anchor="start" font-weight="bold" font-style="normal" textLength="35.93" lengthAdjust="spacingAndGlyphs"><tspan font-weight="900" dy="-1.2">图</tspan><tspan dy="1.2">2</tspan></text>
<text id="h1" x="26.96" y="72.50" font-size="23.0" fill="#2d3266" font-family='"Liberation Sans", "Noto Serif CJK SC", serif' text-anchor="start" font-weight="normal" font-style="normal" textLength="255.37" lengthAdjust="spacingAndGlyphs">RP<tspan font-weight="500">与</tspan>HILIC<tspan font-weight="500">之间的正交选</tspan></text>
<text id="h2" x="27.91" y="100.50" font-size="23.0" fill="#2d3266" font-family='"Liberation Sans", "Noto Serif CJK SC", serif' text-anchor="start" font-weight="normal" font-style="normal" textLength="46.20" lengthAdjust="spacingAndGlyphs"><tspan font-weight="500">择性</tspan></text>
<text id="b00" x="22.04" y="133.00" font-size="19.3" fill="#383838" font-family='"Liberation Sans", "Noto Serif CJK SC", serif' text-anchor="start" font-weight="normal" font-style="normal" textLength="97.12" lengthAdjust="spacingAndGlyphs"><tspan font-weight="600">（</tspan>a<tspan font-weight="600">）柱：</tspan></text>
<text id="b01" x="119.12" y="133.00" font-size="19.3" fill="#383838" font-family='"Liberation Sans", "Noto Serif CJK SC", serif' text-anchor="start" font-weight="normal" font-style="normal" textLength="157.85" lengthAdjust="spacingAndGlyphs">ACE 5 C18, 150 x</text>
<text id="b02" x="26.92" y="157.00" font-size="19.3" fill="#383838" font-family='"Liberation Sans", "Noto Serif CJK SC", serif' text-anchor="start" font-weight="normal" font-style="normal" textLength="67.02" lengthAdjust="spacingAndGlyphs">4.6 mm</text>
<text id="b03" x="27.68" y="191.50" font-size="19.3" fill="#383838" font-family='"Liberation Sans", "Noto Serif CJK SC", serif' text-anchor="start" font-weight="normal" font-style="normal" textLength="290.85" lengthAdjust="spacingAndGlyphs"><tspan font-weight="600">流动相：</tspan>0.1%<tspan font-weight="600">醋酸（溶于乙腈</tspan>/<tspan font-weight="600">水</tspan></text>
<text id="b04" x="26.87" y="214.50" font-size="19.3" fill="#383838" font-family='"Liberation Sans", "Noto Serif CJK SC", serif' text-anchor="start" font-weight="normal" font-style="normal" textLength="152.12" lengthAdjust="spacingAndGlyphs"><tspan font-weight="600">中）（</tspan>5:95 v/v<tspan font-weight="600">）</tspan></text>
<text id="b05" x="22.84" y="248.75" font-size="19.3" fill="#383838" font-family='"Liberation Sans", "Noto Serif CJK SC", serif' text-anchor="start" font-weight="normal" font-style="normal" textLength="96.17" lengthAdjust="spacingAndGlyphs"><tspan font-weight="600">（</tspan>b<tspan font-weight="600">）柱：</tspan></text>
<text id="b06" x="119.34" y="248.75" font-size="19.3" fill="#383838" font-family='"Liberation Sans", "Noto Serif CJK SC", serif' text-anchor="start" font-weight="normal" font-style="normal" textLength="188.48" lengthAdjust="spacingAndGlyphs">ACE 5 HILIC-N<tspan font-weight="600">，</tspan>150</text>
<text id="b07" x="26.86" y="272.50" font-size="19.3" fill="#383838" font-family='"Liberation Sans", "Noto Serif CJK SC", serif' text-anchor="start" font-weight="normal" font-style="normal" textLength="83.20" lengthAdjust="spacingAndGlyphs">x 4.6 mm</text>
<text id="b08" x="27.60" y="306.00" font-size="19.3" fill="#383838" font-family='"Liberation Sans", "Noto Serif CJK SC", serif' text-anchor="start" font-weight="normal" font-style="normal" textLength="291.12" lengthAdjust="spacingAndGlyphs"><tspan font-weight="600">流动相：</tspan>0.1%<tspan font-weight="600">醋酸（溶于乙腈</tspan>/<tspan font-weight="600">水</tspan></text>
<text id="b09" x="26.84" y="329.00" font-size="19.3" fill="#383838" font-family='"Liberation Sans", "Noto Serif CJK SC", serif' text-anchor="start" font-weight="normal" font-style="normal" textLength="153.11" lengthAdjust="spacingAndGlyphs"><tspan font-weight="600">中）（</tspan>95:5 v/v<tspan font-weight="600">）</tspan></text>
<text id="b10" x="27.64" y="363.00" font-size="19.3" fill="#383838" font-family='"Liberation Sans", "Noto Serif CJK SC", serif' text-anchor="start" font-weight="normal" font-style="normal" textLength="142.03" lengthAdjust="spacingAndGlyphs"><tspan font-weight="600">流速：</tspan>1 mL/min</text>
<text id="b11" x="27.38" y="396.00" font-size="19.3" fill="#383838" font-family='"Liberation Sans", "Noto Serif CJK SC", serif' text-anchor="start" font-weight="normal" font-style="normal" textLength="109.83" lengthAdjust="spacingAndGlyphs"><tspan font-weight="600">温度：</tspan>22 °C</text>
<text id="b12" x="27.82" y="430.00" font-size="19.3" fill="#383838" font-family='"Liberation Sans", "Noto Serif CJK SC", serif' text-anchor="start" font-weight="normal" font-style="normal" textLength="161.82" lengthAdjust="spacingAndGlyphs"><tspan font-weight="600">检测：</tspan>UV, 254 nm</text>
<text id="b13" x="28.11" y="462.50" font-size="19.3" fill="#383838" font-family='"Liberation Sans", "Noto Serif CJK SC", serif' text-anchor="start" font-weight="normal" font-style="normal" textLength="97.38" lengthAdjust="spacingAndGlyphs"><tspan font-weight="600">进样：</tspan>5 µL</text>
<text id="b14" x="27.83" y="496.00" font-size="19.3" fill="#383838" font-family='"Liberation Sans", "Noto Serif CJK SC", serif' text-anchor="start" font-weight="normal" font-style="normal" textLength="58.91" lengthAdjust="spacingAndGlyphs"><tspan font-weight="600">样品：</tspan></text>
<text id="la0" x="28.13" y="523.60" font-size="19.3" fill="#383838" font-family='"Liberation Sans", "Noto Serif CJK SC", serif' text-anchor="start" font-weight="normal" font-style="normal" textLength="17.74" lengthAdjust="spacingAndGlyphs">1)</text>
<text id="lb0" x="54.68" y="523.60" font-size="19.3" fill="#383838" font-family='"Liberation Sans", "Noto Serif CJK SC", serif' text-anchor="start" font-weight="normal" font-style="normal" textLength="59.38" lengthAdjust="spacingAndGlyphs"><tspan font-weight="600">胞嘧啶</tspan></text>
<text id="la1" x="26.23" y="549.70" font-size="19.3" fill="#383838" font-family='"Liberation Sans", "Noto Serif CJK SC", serif' text-anchor="start" font-weight="normal" font-style="normal" textLength="20.17" lengthAdjust="spacingAndGlyphs">2)</text>
<text id="lb1" x="55.86" y="549.70" font-size="19.3" fill="#383838" font-family='"Liberation Sans", "Noto Serif CJK SC", serif' text-anchor="start" font-weight="normal" font-style="normal" textLength="77.95" lengthAdjust="spacingAndGlyphs"><tspan font-weight="600">次黄嘌呤</tspan></text>
<text id="la2" x="26.53" y="575.30" font-size="19.3" fill="#383838" font-family='"Liberation Sans", "Noto Serif CJK SC", serif' text-anchor="start" font-weight="normal" font-style="normal" textLength="19.12" lengthAdjust="spacingAndGlyphs">3)</text>
<text id="lb2" x="53.92" y="575.30" font-size="19.3" fill="#383838" font-family='"Liberation Sans", "Noto Serif CJK SC", serif' text-anchor="start" font-weight="normal" font-style="normal" textLength="80.38" lengthAdjust="spacingAndGlyphs"><tspan font-weight="600">胸腺嘧啶</tspan></text>
<text id="la3" x="27.12" y="601.20" font-size="19.3" fill="#383838" font-family='"Liberation Sans", "Noto Serif CJK SC", serif' text-anchor="start" font-weight="normal" font-style="normal" textLength="18.63" lengthAdjust="spacingAndGlyphs">4)</text>
<text id="lb3" x="55.67" y="601.20" font-size="19.3" fill="#383838" font-family='"Liberation Sans", "Noto Serif CJK SC", serif' text-anchor="start" font-weight="normal" font-style="normal" textLength="59.57" lengthAdjust="spacingAndGlyphs"><tspan font-weight="600">可可碱</tspan></text>
<text id="la4" x="26.33" y="626.60" font-size="19.3" fill="#383838" font-family='"Liberation Sans", "Noto Serif CJK SC", serif' text-anchor="start" font-weight="normal" font-style="normal" textLength="19.61" lengthAdjust="spacingAndGlyphs">5)</text>
<text id="lb4" x="55.40" y="626.60" font-size="19.3" fill="#383838" font-family='"Liberation Sans", "Noto Serif CJK SC", serif' text-anchor="start" font-weight="normal" font-style="normal" textLength="39.45" lengthAdjust="spacingAndGlyphs"><tspan font-weight="600">茶碱</tspan></text>
<text id="la5" x="26.20" y="652.80" font-size="19.3" fill="#383838" font-family='"Liberation Sans", "Noto Serif CJK SC", serif' text-anchor="start" font-weight="normal" font-style="normal" textLength="19.70" lengthAdjust="spacingAndGlyphs">6)</text>
<text id="lb5" x="54.15" y="652.80" font-size="19.3" fill="#383838" font-family='"Liberation Sans", "Noto Serif CJK SC", serif' text-anchor="start" font-weight="normal" font-style="normal" textLength="60.59" lengthAdjust="spacingAndGlyphs"><tspan font-weight="600">咖啡因</tspan></text>
<line x1="779" y1="41.3" x2="804" y2="41.3" stroke="#1b2a5a" stroke-width="2.6"/><polygon points="801,33.8 828,41.3 801,48.8" fill="#1b2a5a"/>
<line x1="779" y1="413.0" x2="804" y2="413.0" stroke="#1b2a5a" stroke-width="2.6"/><polygon points="801,405.5 828,413.0 801,420.5" fill="#1b2a5a"/>
</svg>
</body></html>
